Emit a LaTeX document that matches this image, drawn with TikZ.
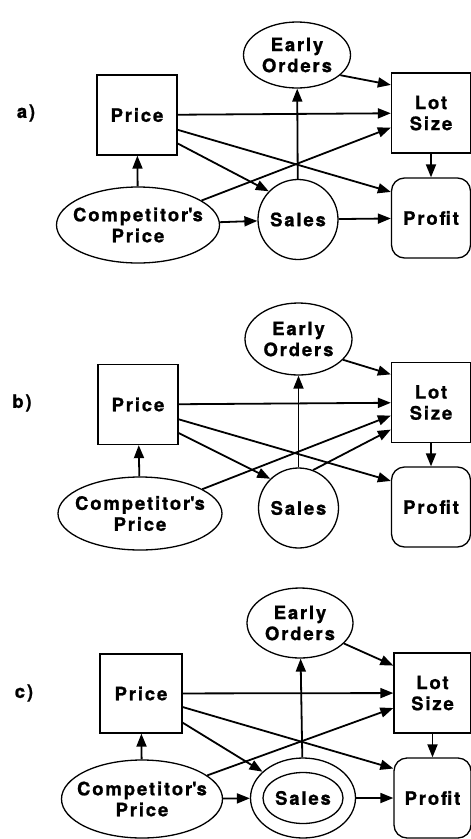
\documentclass[tikz,border=0pt]{standalone}
\usepackage{fontspec}
\setmainfont{TeX Gyre Heros}[LetterSpace=10,FakeBold=1]
\usetikzlibrary{shapes.geometric,arrows.meta}

\begin{document}
\begin{tikzpicture}[x=1pt,y=-1pt,
	font=\bfseries\fontsize{18.5}{21}\selectfont,
	decbox/.style={draw,line width=1.3pt,rectangle,minimum width=80pt,minimum height=80pt,align=center},
	valbox/.style={draw,line width=1.3pt,rectangle,rounded corners=13pt,minimum width=79pt,minimum height=80pt},
	chance/.style={draw,line width=1.3pt,ellipse,align=center,inner xsep=-12pt,inner ysep=0pt},
	arr/.style={line width=1.8pt,-{Triangle[length=13pt,width=10pt]}}]
	\useasboundingbox (0,0) rectangle (471,839);

	% a) all arcs
	\node (tagA) at (26,113) {a)};
	\node[decbox] (pa) at (137,115) {Price};
	\node[chance,minimum width=107pt,minimum height=66pt] (ea) at (297,55) {Early\\Orders};
	\node[decbox,minimum width=79pt] (la) at (431,113) {Lot\\Size};
	\node[valbox] (fa) at (431,218) {Profit};
	\node[chance,circle,inner sep=0pt,minimum size=80pt] (sa) at (298,219.5) {Sales};
	\node[chance,minimum width=163pt,minimum height=76pt] (ca) at (138,225) {Competitor\textquotesingle s\\Price};
	\draw[arr] (ca) -- (pa);
	\draw[arr] (ca) -- (sa);
	\draw[arr] (ca) -- (la.200);
	\draw[arr] (pa) -- (la);
	\draw[arr] (pa.-35) -- (sa.136);
	\draw[arr] (pa.-20) -- (fa.147);
	\draw[arr] (sa) -- (ea);
	\draw[arr] (ea.-25) -- (la.145);
	\draw[arr] (la) -- (fa);
	\draw[arr] (sa) -- (fa);

	% b) sales feeds lot size, no link to profit
	\node (tagB) at (22,403) {b)};
	\node[decbox] (pb) at (138,404.5) {Price};
	\node[chance,minimum width=107pt,minimum height=72pt] (eb) at (298.5,339) {Early\\Orders};
	\node[decbox,minimum width=79pt] (lb) at (431,402.5) {Lot\\Size};
	\node[valbox] (fb) at (431,507) {Profit};
	\node[chance,circle,inner sep=0pt,minimum size=80pt] (sb) at (298.5,508) {Sales};
	\node[chance,minimum width=164pt,minimum height=73pt] (cb) at (140,513.5) {Competitor\textquotesingle s\\Price};
	\draw[arr] (cb) -- (pb);
	\draw[arr] (cb) -- (lb.198);
	\draw[arr] (pb) -- (lb);
	\draw[arr] (pb.-35) -- (sb.134);
	\draw[arr] (pb.-20) -- (fb.147);
	\draw[arr] (sb) -- (eb);
	\draw[arr] (sb.69) -- (lb.214);
	\draw[arr] (eb.-25) -- (lb.145);
	\draw[arr] (lb) -- (fb);

	% c) sales as a double oval
	\node (tagC) at (24,693) {c)};
	\node[decbox,minimum width=82pt,minimum height=79pt] (pc) at (141,693.5) {Price};
	\node[chance,minimum width=106pt,minimum height=70pt] (ec) at (300,623) {Early\\Orders};
	\node[decbox,minimum width=77pt] (lc) at (432.5,693) {Lot\\Size};
	\node[valbox,minimum width=77pt] (fc) at (432.5,798) {Profit};
	\node[chance,minimum width=105pt,minimum height=80pt] (sc) at (303,798) {Sales};
	\draw[line width=1.3pt] (sc.center) ellipse [x radius=40pt, y radius=25.5pt];
	\node[chance,minimum width=161pt,minimum height=78pt] (cc) at (142,799) {Competitor\textquotesingle s\\Price};
	\draw[arr] (cc) -- (pc);
	\draw[arr] (cc) -- (sc);
	\draw[arr] (cc) -- (lc.201);
	\draw[arr] (pc) -- (lc);
	\draw[arr] (pc.-35) -- (sc.147);
	\draw[arr] (pc.-18) -- (fc.143);
	\draw[arr] (sc) -- (ec);
	\draw[arr] (ec.-25) -- (lc.145);
	\draw[arr] (lc) -- (fc);
	\draw[arr] (sc) -- (fc);
\end{tikzpicture}
\end{document}
